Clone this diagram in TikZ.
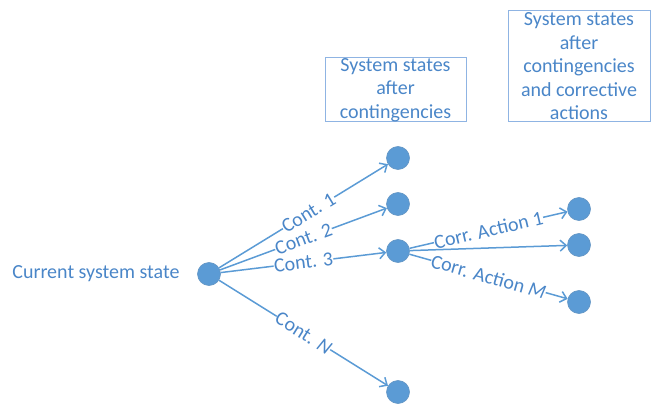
\documentclass[tikz,border=0pt]{standalone}
\usepackage{fontspec}
\setmainfont{Carlito}
\usetikzlibrary{arrows.meta}
\definecolor{nodeblue}{HTML}{5B9BD5}
\definecolor{txtblue}{HTML}{4A86C8}
\definecolor{boxblue}{HTML}{8FB4E3}
\begin{document}
\begin{tikzpicture}[x=1pt,y=-1pt,
  state/.style={circle,fill=nodeblue,draw=nodeblue!80!gray,line width=0.6pt,minimum size=23pt,inner sep=0pt},
  conn/.style={draw=nodeblue,line width=1.5pt,-{Straight Barb[length=6pt,width=11pt]}},
  lbl/.style={sloped,fill=white,inner sep=0.3pt,text=txtblue,font=\fontsize{20}{24}\selectfont},
  txt/.style={text=txtblue,font=\fontsize{20}{24}\selectfont,align=center},
  infobox/.style={draw=boxblue,line width=1pt,inner sep=0pt,text=txtblue,font=\fontsize{20}{23.5}\selectfont,align=center}]
\useasboundingbox (0,0) rectangle (653,414);
\node[state] (root) at (209,274) {};
\node[state] (a1) at (398,158) {};
\node[state] (a2) at (398,204) {};
\node[state] (a3) at (398,251) {};
\node[state] (an) at (398,392) {};
\node[state] (b1) at (579,209) {};
\node[state] (b2) at (579,245) {};
\node[state] (b3) at (579,302) {};
\node[txt,anchor=east] (cur) at (183,274) {Current system state};
\node[infobox,minimum width=141pt,minimum height=64pt] (box1) at (395.5,90) {System states\\after\\contingencies};
\node[infobox,minimum width=142pt,minimum height=111pt] (box2) at (579,66.5) {System states\\after\\contingencies\\and corrective\\actions};
\draw[conn] (root) -- node[lbl,pos=0.53] {Cont. 1} (a1);
\draw[conn] (root) -- node[lbl,pos=0.5] {Cont. 2} (a2);
\draw[conn] (root) -- node[lbl,pos=0.5] {Cont. 3} (a3);
\draw[conn] (root) -- node[lbl,pos=0.5] {Cont. \textit{N}} (an);
\draw[conn] (a3) -- node[lbl,pos=0.5] {Corr. Action 1} (b1);
\draw[conn] (a3) -- (b2);
\draw[conn] (a3) -- node[lbl,pos=0.5] {Corr. Action \textit{M}} (b3);
\end{tikzpicture}
\end{document}
